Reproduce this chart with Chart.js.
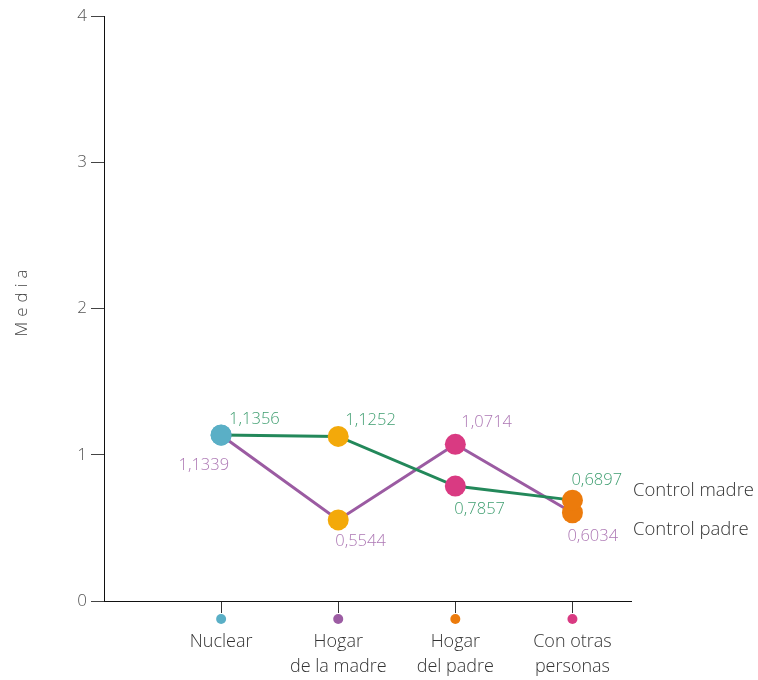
<!DOCTYPE html>
<html>
<head>
<meta charset="utf-8">
<script src="https://cdn.jsdelivr.net/npm/chart.js@4.4.1/dist/chart.umd.min.js"></script>
<style>
  html, body { margin: 0; padding: 0; background: #fff; }
  #wrap { width: 758px; height: 680px; position: relative; }
</style>
</head>
<body>
<div id="wrap"><canvas id="chart"></canvas></div>
<script>
// Media de control por tipo de hogar
const categories = [['Nuclear'], ['Hogar', 'de la madre'], ['Hogar', 'del padre'], ['Con otras', 'personas']];
const catPos = [1, 2, 3, 4];
const controlMadre = [1.1356, 1.1252, 0.7857, 0.6897];
const controlPadre = [1.1339, 0.5544, 1.0714, 0.6034];
const seriesNames = ['Control madre', 'Control padre'];
const yTicks = [0, 1, 2, 3, 4];

const markerColors = ['#5aafc6', '#f3a90a', '#d93a82', '#ec7b0c'];
const axisDotColors = ['#5aafc6', '#9c5ca3', '#ec7b0c', '#d93a82'];
const lineColors = ['#23885a', '#9b5ba2'];
const labelColors = ['#3f9e70', '#ad78b4'];
const FONT = '"Open Sans", Lato, sans-serif';

// label placement per point: [dx, dy, align]
const labelPlace = [
  [[8, -16, 'left'], [7, -16, 'left'], [-1, 23, 'left'], [-1, -20, 'left']],
  [[8, 30, 'right'], [-3, 21, 'left'], [6, -22, 'left'], [-5, 24, 'left']]
];
const legendDy = [-9, 17];

const fmt = v => v.toFixed(4).replace('.', ',');
const pts = arr => arr.map((v, i) => ({ x: catPos[i], y: v }));

const extras = {
  id: 'extras',
  afterDatasetsDraw(chart) {
    const ctx = chart.ctx;
    const xs = chart.scales.x;
    const area = chart.chartArea;
    ctx.save();
    ctx.textBaseline = 'middle';
    chart.data.datasets.forEach((ds, di) => {
      const meta = chart.getDatasetMeta(di);
      ctx.font = '300 16.5px ' + FONT;
      meta.data.forEach((p, i) => {
        const [dx, dy, al] = labelPlace[di][i];
        ctx.fillStyle = labelColors[di];
        ctx.textAlign = al;
        ctx.fillText(fmt(ds.data[i].y), p.x + dx, p.y + dy);
      });
      // series name at right
      const last = meta.data[meta.data.length - 1];
      ctx.fillStyle = '#333';
      ctx.textAlign = 'left';
      ctx.font = '300 18.5px ' + FONT;
      ctx.fillText(seriesNames[di], area.right + 2, last.y + legendDy[di]);
    });
    // coloured dots under x ticks
    catPos.forEach((c, i) => {
      ctx.beginPath();
      ctx.fillStyle = axisDotColors[i];
      ctx.arc(xs.getPixelForValue(c), area.bottom + 18, 5, 0, Math.PI * 2);
      ctx.fill();
    });
    // y title with spacing
    ctx.translate(22, (area.top + area.bottom) / 2);
    ctx.rotate(-Math.PI / 2);
    ctx.fillStyle = '#444';
    ctx.font = '300 17px ' + FONT;
    ctx.textAlign = 'center';
    ctx.letterSpacing = '5px';
    ctx.fillText('Media', 8, 0);
    ctx.restore();
  }
};

new Chart(document.getElementById('chart'), {
  type: 'line',
  data: {
    datasets: [
      { label: seriesNames[0], data: pts(controlMadre), borderColor: lineColors[0], borderWidth: 3,
        pointRadius: 10.5, pointHoverRadius: 10.5, pointBorderWidth: 0, pointBackgroundColor: markerColors },
      { label: seriesNames[1], data: pts(controlPadre), borderColor: lineColors[1], borderWidth: 3,
        pointRadius: 10.5, pointHoverRadius: 10.5, pointBorderWidth: 0, pointBackgroundColor: markerColors }
    ]
  },
  options: {
    responsive: true,
    maintainAspectRatio: false,
    animation: false,
    layout: { padding: { top: 16, right: 127, left: 0, bottom: 0 } },
    plugins: { legend: { display: false }, tooltip: { enabled: false } },
    scales: {
      x: {
        type: 'linear', min: 0, max: 4.5,
        afterBuildTicks: s => { s.ticks = catPos.map(v => ({ value: v })); },
        afterFit: s => { s.height = 79; },
        border: { display: true, color: '#111', width: 1 },
        grid: { drawOnChartArea: false, tickLength: 12, color: '#333', tickWidth: 1 },
        ticks: {
          padding: 16, color: '#333', font: { family: FONT, size: 18, weight: 300, lineHeight: 1.4 },
          maxRotation: 0, autoSkip: false,
          callback: v => { const i = catPos.indexOf(v); return i >= 0 ? categories[i] : ''; }
        }
      },
      y: {
        min: 0, max: 4,
        afterBuildTicks: s => { s.ticks = yTicks.map(v => ({ value: v })); },
        afterFit: s => { s.width = 104; },
        border: { display: true, color: '#111', width: 1 },
        grid: { drawOnChartArea: false, tickLength: 13, color: '#444', tickWidth: 1 },
        ticks: { padding: 4, color: '#555', font: { family: FONT, size: 17, weight: 300 } }
      }
    }
  },
  plugins: [extras]
});
</script>
</body>
</html>
